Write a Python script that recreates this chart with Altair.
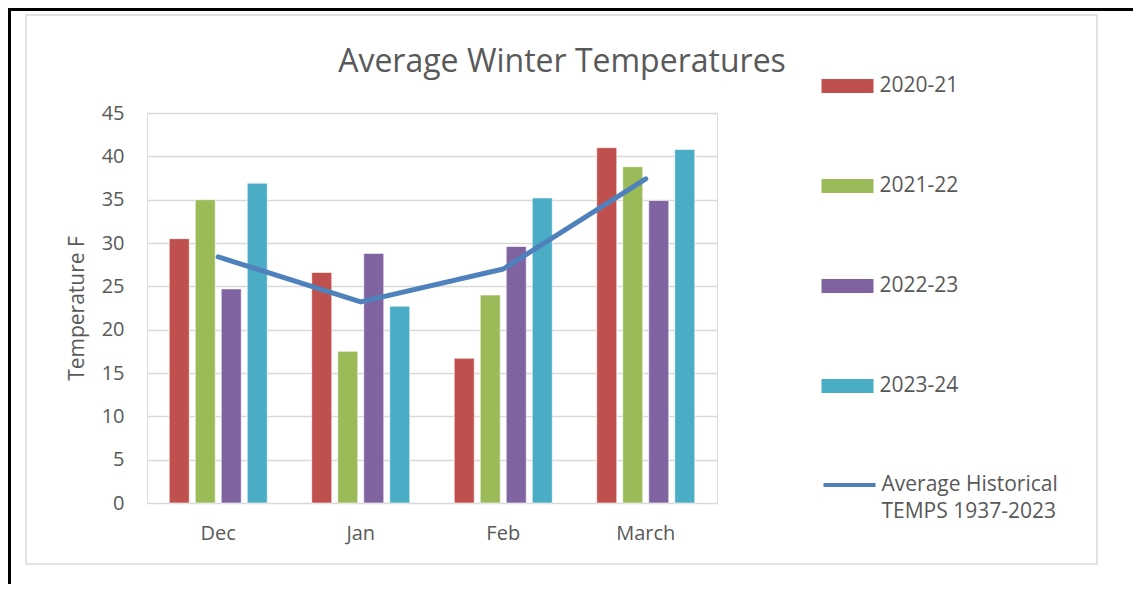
import altair as alt
import pandas as pd

months = ["Dec", "Jan", "Feb", "March"]
seasons = ["2020-21", "2021-22", "2022-23", "2023-24"]
t_2020_21 = [30.5, 26.6, 16.7, 41.0]
t_2021_22 = [35.0, 17.5, 24.0, 38.8]
t_2022_23 = [24.7, 28.8, 29.6, 34.9]
t_2023_24 = [36.9, 22.7, 35.2, 40.8]
hist_avg = [28.4, 23.2, 27.0, 37.4]
hist_label = "Average Historical|TEMPS 1937-2023"
bar_colors = ["#C0504D", "#9BBB59", "#8064A2", "#4BACC6"]
line_color = "#4F81BD"

rows = []
for s, vals in zip(seasons, [t_2020_21, t_2021_22, t_2022_23, t_2023_24]):
    for m, v in zip(months, vals):
        rows.append({"Month": m, "Season": s, "Temp": v})
bars_df = pd.DataFrame(rows)
line_df = pd.DataFrame({"Month": months, "Temp": hist_avg, "Series": [hist_label] * 4})

FONT = "Open Sans"
GRAY = "#595959"

x_enc = alt.X("Month:N", sort=months,
              scale=alt.Scale(paddingInner=0.27, paddingOuter=0.135),
              axis=alt.Axis(title=None, labelAngle=0, ticks=False, domain=False,
                            labelPadding=20, labelFontSize=20, labelColor=GRAY,
                            labelFont=FONT))
y_enc = alt.Y("Temp:Q", scale=alt.Scale(domain=[0, 45], nice=False),
              axis=alt.Axis(title="Temperature F", values=list(range(0, 46, 5)),
                            ticks=False, domain=False, labelPadding=23,
                            labelFontSize=20, labelColor=GRAY, labelFont=FONT,
                            titleFontSize=21, titleColor=GRAY, titleFont=FONT,
                            titleFontWeight="normal", titlePadding=14,
                            gridColor="#D9D9D9", gridWidth=1.3))

bars = alt.Chart(bars_df).mark_bar(stroke="white", strokeWidth=1, strokeOpacity=0.6).encode(
    x=x_enc,
    xOffset=alt.XOffset("Season:N", sort=seasons,
                        scale=alt.Scale(paddingInner=0.23, paddingOuter=0.115)),
    y=y_enc,
    color=alt.Color("Season:N", sort=seasons,
                    scale=alt.Scale(domain=seasons, range=bar_colors),
                    legend=alt.Legend(title=None, orient="none", legendX=674.5, legendY=-53,
                                      symbolType="M-1,-0.27L1,-0.27L1,0.27L-1,0.27Z",
                                      symbolSize=2704, symbolStrokeWidth=0,
                                      symbolOpacity=1,
                                      labelFontSize=21, labelColor=GRAY, labelFont=FONT,
                                      labelOffset=6, rowPadding=64, padding=0)),
)

line = alt.Chart(line_df).mark_line(strokeWidth=5, strokeCap="round", strokeJoin="round").encode(
    x=alt.X("Month:N", sort=months),
    y=alt.Y("Temp:Q"),
    color=alt.Color("Series:N", scale=alt.Scale(domain=[hist_label], range=[line_color]),
                    legend=alt.Legend(title=None, orient="none", legendX=674.5, legendY=344,
                                      symbolType="stroke", symbolSize=2704,
                                      symbolStrokeWidth=4,
                                      labelExpr="split(datum.label, '|')",
                                      labelLimit=400,
                                      labelFontSize=21, labelColor=GRAY, labelFont=FONT,
                                      labelOffset=4, padding=0)),
)

one = pd.DataFrame({"a": [0]})
frame = alt.Chart(one).mark_rect(fill="transparent", stroke="#D9D9D9", strokeWidth=1.5).encode(
    x=alt.value(-121), x2=alt.value(950), y=alt.value(-98), y2=alt.value(451))
top_border = alt.Chart(one).mark_rule(color="black", strokeWidth=3).encode(
    x=alt.value(-139), x2=alt.value(986), y=alt.value(-103.5))
left_border = alt.Chart(one).mark_rule(color="black", strokeWidth=3).encode(
    x=alt.value(-137.5), y=alt.value(-105), y2=alt.value(471))

chart = alt.layer(frame, top_border, left_border, bars, line).resolve_scale(
    color="independent"
).properties(
    width=570, height=390,
    autosize=alt.AutoSizeParams(type="none"),
    padding={"left": 139, "top": 105, "right": 416, "bottom": 81},
    title=alt.TitleParams("Average Winter Temperatures", fontSize=32, font=FONT,
                          fontWeight="normal", color=GRAY, anchor="middle",
                          dx=130, offset=-72),
).configure_view(strokeOpacity=0).configure(
    background="white", style={"guide-label": {"lineHeight": 27}}
)

chart.save("out.html", embed_options={"renderer": "svg", "actions": False})
